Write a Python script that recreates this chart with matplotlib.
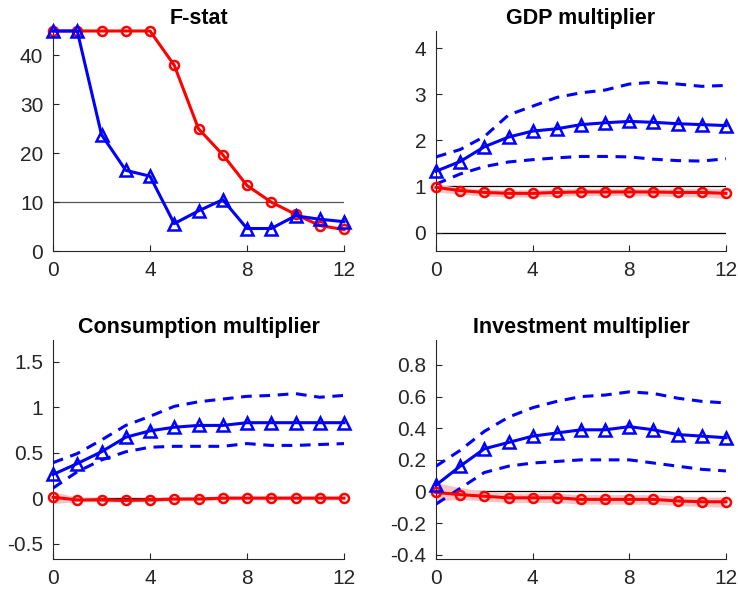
import matplotlib
matplotlib.use("Agg")
import matplotlib.pyplot as plt
import numpy as np

plt.rcParams["font.family"] = ["Liberation Sans", "DejaVu Sans"]
plt.rcParams["axes.unicode_minus"] = False

h = np.arange(13)

# F-stat
f_red = [45, 45, 45, 45, 45, 38, 25, 19.7, 13.4, 10, 7.5, 5.2, 4.4]
f_blue = [45, 45, 23.8, 16.5, 15.3, 5.6, 8.2, 10.5, 4.6, 4.6, 7.2, 6.5, 6.0]

# GDP multiplier
gdp_blue = [1.33, 1.54, 1.86, 2.07, 2.2, 2.25, 2.34, 2.38, 2.41, 2.39, 2.36, 2.34, 2.32]
gdp_blue_hi = [1.64, 1.8, 2.08, 2.55, 2.74, 2.93, 3.03, 3.09, 3.22, 3.26, 3.22, 3.17, 3.19]
gdp_blue_lo = [1.05, 1.27, 1.43, 1.53, 1.58, 1.62, 1.65, 1.65, 1.64, 1.59, 1.56, 1.55, 1.6]
gdp_red = [0.98, 0.91, 0.87, 0.85, 0.85, 0.87, 0.88, 0.88, 0.88, 0.88, 0.87, 0.87, 0.85]
gdp_red_hi = [1.05, 0.98, 0.95, 0.93, 0.93, 0.95, 0.96, 0.96, 0.96, 0.96, 0.96, 0.96, 0.95]
gdp_red_lo = [0.88, 0.83, 0.79, 0.77, 0.77, 0.79, 0.8, 0.8, 0.8, 0.79, 0.78, 0.77, 0.74]

# Consumption multiplier
con_blue = [0.26, 0.38, 0.51, 0.67, 0.74, 0.78, 0.8, 0.8, 0.83, 0.83, 0.83, 0.83, 0.83]
con_blue_hi = [0.39, 0.49, 0.64, 0.8, 0.9, 1.01, 1.06, 1.09, 1.12, 1.13, 1.15, 1.11, 1.13]
con_blue_lo = [0.11, 0.29, 0.42, 0.51, 0.56, 0.57, 0.57, 0.57, 0.6, 0.58, 0.58, 0.59, 0.6]
con_red = [0.01, -0.02, -0.02, -0.025, -0.02, -0.01, -0.01, 0, 0, 0, 0, 0, 0]
con_red_hi = [0.07, 0.01, 0.0, -0.005, 0.0, 0.01, 0.01, 0.02, 0.02, 0.02, 0.02, 0.02, 0.02]
con_red_lo = [-0.06, -0.04, -0.04, -0.045, -0.04, -0.03, -0.03, -0.02, -0.02, -0.02, -0.02, -0.02, -0.02]

# Investment multiplier
inv_blue = [0.04, 0.16, 0.27, 0.31, 0.35, 0.37, 0.39, 0.39, 0.41, 0.39, 0.36, 0.35, 0.34]
inv_blue_hi = [0.16, 0.26, 0.38, 0.47, 0.53, 0.57, 0.6, 0.61, 0.63, 0.62, 0.59, 0.57, 0.56]
inv_blue_lo = [-0.08, 0.02, 0.12, 0.16, 0.18, 0.19, 0.2, 0.2, 0.2, 0.18, 0.16, 0.14, 0.13]
inv_red = [-0.006, -0.02, -0.03, -0.04, -0.04, -0.04, -0.05, -0.05, -0.05, -0.05, -0.06, -0.065, -0.065]
inv_red_hi = [0.055, 0.025, 0.0, -0.01, -0.01, -0.01, -0.02, -0.02, -0.02, -0.02, -0.03, -0.035, -0.035]
inv_red_lo = [-0.06, -0.05, -0.06, -0.07, -0.07, -0.07, -0.08, -0.08, -0.08, -0.08, -0.09, -0.095, -0.1]

fig = plt.figure(figsize=(7.38, 5.95), dpi=100)
W, H = 738.0, 595.0


def make_ax(x0, x1, ytop, ybot):
    return fig.add_axes([x0 / W, 1 - ybot / H, (x1 - x0) / W, (ybot - ytop) / H])


def style(ax, title, ylim, yticks, hlines):
    ax.set_xlim(0, 12)
    ax.set_ylim(*ylim)
    ax.set_xticks([0, 4, 8, 12])
    ax.set_yticks(yticks)
    ax.set_yticklabels(["%g" % t for t in yticks])
    for s in ["top", "right"]:
        ax.spines[s].set_visible(False)
    for s in ["left", "bottom"]:
        ax.spines[s].set_color("#262626")
        ax.spines[s].set_linewidth(0.8)
    ax.tick_params(direction="in", length=4, width=0.8, colors="#262626",
                   labelsize=15, pad=7)
    ax.set_title(title, fontsize=15.5, fontweight="bold", pad=5)
    for y, c in hlines:
        ax.axhline(y, color=c, lw=0.9, zorder=1)


blue_kw = dict(color="blue", lw=2.2, marker="^", ms=9, mfc="none", mew=1.8, clip_on=False, zorder=4)
red_kw = dict(color="red", lw=2.2, marker="o", ms=6.5, mfc="none", mew=1.8, clip_on=False, zorder=3)
dash_kw = dict(color="blue", lw=2.2, ls=(0, (3.5, 2.5)), zorder=3)
band_kw = dict(color="#f9c4c4", lw=0, zorder=2)

# F-stat
ax = make_ax(53, 344, 31, 251)
style(ax, "F-stat", (0, 45), [0, 10, 20, 30, 40], [(10, "#555555")])
ax.plot(h, f_red, **red_kw)
ax.plot(h, f_blue, **blue_kw)

# GDP
ax = make_ax(436, 726, 31, 251)
style(ax, "GDP multiplier", (-0.4, 4.37), [0, 1, 2, 3, 4], [(0, "black"), (1, "black")])
ax.fill_between(h, gdp_red_lo, gdp_red_hi, **band_kw)
ax.plot(h, gdp_blue_hi, **dash_kw)
ax.plot(h, gdp_blue_lo, **dash_kw)
ax.plot(h, gdp_red, **red_kw)
ax.plot(h, gdp_blue, **blue_kw)

# Consumption
ax = make_ax(53, 344, 340, 559)
style(ax, "Consumption multiplier", (-0.67, 1.74), [-0.5, 0, 0.5, 1, 1.5], [(0, "black")])
ax.fill_between(h, con_red_lo, con_red_hi, **band_kw)
ax.plot(h, con_blue_hi, **dash_kw)
ax.plot(h, con_blue_lo, **dash_kw)
ax.plot(h, con_red, **red_kw)
ax.plot(h, con_blue, **blue_kw)

# Investment
ax = make_ax(436, 726, 340, 559)
style(ax, "Investment multiplier", (-0.427, 0.958), [-0.4, -0.2, 0, 0.2, 0.4, 0.6, 0.8], [(0, "black")])
ax.fill_between(h, inv_red_lo, inv_red_hi, **band_kw)
ax.plot(h, inv_blue_hi, **dash_kw)
ax.plot(h, inv_blue_lo, **dash_kw)
ax.plot(h, inv_red, **red_kw)
ax.plot(h, inv_blue, **blue_kw)

fig.savefig("out.png", dpi=100)
